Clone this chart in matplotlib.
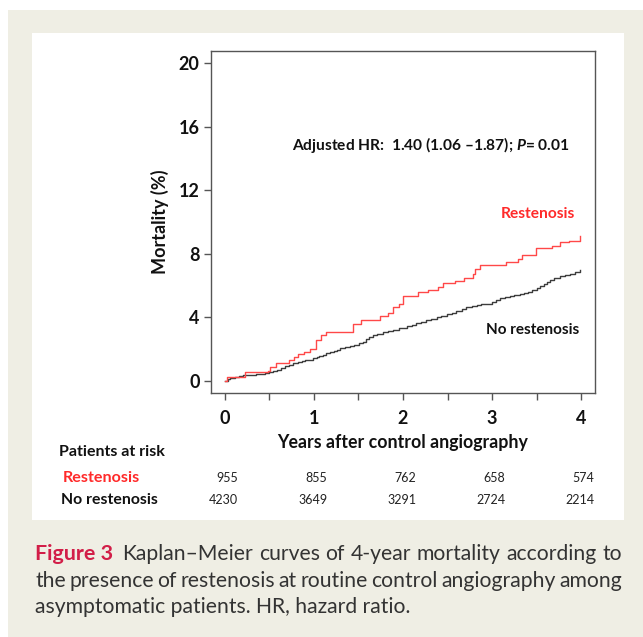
import matplotlib
matplotlib.use('Agg')
import matplotlib.pyplot as plt
from matplotlib.patches import Rectangle
from matplotlib.ticker import MultipleLocator

# データ
rest_t = [0, 0.02, 0.18, 0.23, 0.48, 0.51, 0.57, 0.72, 0.78, 0.82, 0.89, 0.95,
          1.02, 1.08, 1.14, 1.44, 1.53, 1.74, 1.83, 1.89, 1.96, 2.0, 2.17, 2.28,
          2.39, 2.45, 2.58, 2.69, 2.79, 2.81, 2.86, 3.16, 3.29, 3.34, 3.49, 3.67,
          3.76, 3.86, 3.99]
rest_y = [0, 0.25, 0.25, 0.56, 0.6, 0.88, 1.1, 1.3, 1.5, 1.7, 1.8, 2.0,
          2.55, 2.87, 3.08, 3.6, 3.85, 4.1, 4.27, 4.65, 4.85, 5.31, 5.6, 5.73,
          5.9, 6.15, 6.3, 6.48, 6.74, 7.05, 7.26, 7.47, 7.68, 7.89, 8.37, 8.5,
          8.72, 8.83, 9.14]

norest_t = [0, 0.03, 0.06, 0.11, 0.16, 0.2, 0.25, 0.3, 0.35, 0.4, 0.45, 0.5,
            0.54, 0.58, 0.63, 0.68, 0.72, 0.77, 0.82, 0.86, 0.9, 0.95, 0.99,
            1.03, 1.06, 1.1, 1.14, 1.18, 1.22, 1.26, 1.29, 1.35, 1.4, 1.45,
            1.51, 1.55, 1.58, 1.62, 1.66, 1.71, 1.77, 1.83, 1.89, 1.96, 2.04,
            2.1, 2.15, 2.2, 2.26, 2.32, 2.38, 2.43, 2.49, 2.55, 2.6, 2.66,
            2.71, 2.77, 2.83, 2.88, 2.94, 3.0, 3.05, 3.09, 3.15, 3.2, 3.25,
            3.31, 3.36, 3.4, 3.45, 3.5, 3.54, 3.58, 3.62, 3.65, 3.7, 3.76,
            3.82, 3.88, 3.93, 3.99]
norest_y = [0, 0.08, 0.15, 0.24, 0.31, 0.34, 0.36, 0.38, 0.4, 0.44, 0.5, 0.55,
            0.6, 0.68, 0.78, 0.9, 1.0, 1.08, 1.15, 1.21, 1.27, 1.33, 1.4,
            1.47, 1.55, 1.63, 1.72, 1.8, 1.88, 1.96, 2.03, 2.1, 2.18, 2.26,
            2.34, 2.46, 2.6, 2.74, 2.87, 2.96, 3.05, 3.13, 3.22, 3.32, 3.43,
            3.53, 3.62, 3.71, 3.8, 3.89, 3.98, 4.08, 4.18, 4.29, 4.4, 4.52,
            4.64, 4.7, 4.75, 4.8, 4.85, 4.98, 5.1, 5.23, 5.28, 5.33, 5.38,
            5.44, 5.52, 5.6, 5.72, 5.86, 5.98, 6.1, 6.21, 6.32, 6.45, 6.57,
            6.65, 6.74, 6.84, 6.95]

years = [0, 1, 2, 3, 4]
risk_rest = [955, 855, 762, 658, 574]
risk_norest = [4230, 3649, 3291, 2724, 2214]

caption_lines = ['Kaplan\u2013Meier curves of 4-year mortality according to',
                 'the presence of restenosis at routine control angiography among',
                 'asymptomatic patients. HR, hazard ratio.']

RED = '#ff2a2a'
LINE_RED = '#ff4848'
DARK = '#3c3c3c'
BEIGE = '#efeee4'
FONT = ['Lato', 'DejaVu Sans']
W, H = 643, 637


def justify(fig, words, x0, x1, y, **kw):
    # 単語を均等に配置して両端揃え
    r = fig.canvas.get_renderer()
    texts = [fig.text(0, y, w, ha='left', va='center', **kw) for w in words]
    widths = [t.get_window_extent(r).width for t in texts]
    gap = (x1 - x0 - sum(widths)) / (len(words) - 1)
    x = x0
    for t, w in zip(texts, widths):
        t.set_x(x / W)
        x += w + gap


def main():
    plt.rcParams['font.family'] = FONT
    plt.rcParams['mathtext.fontset'] = 'custom'
    plt.rcParams['mathtext.it'] = 'Lato:italic:bold'
    fig = plt.figure(figsize=(6.43, 6.37), dpi=100, facecolor='white')

    # 背景
    fig.patches.append(Rectangle((8 / W, 0), 1, 1 - 10 / H, transform=fig.transFigure,
                                 facecolor=BEIGE, edgecolor='none', zorder=-10))
    fig.patches.append(Rectangle((32 / W, 1 - 520 / H), (624 - 32) / W, (520 - 33) / H,
                                 transform=fig.transFigure, facecolor='white',
                                 edgecolor='none', zorder=-9))

    ax = fig.add_axes([210.7 / W, 1 - 393.3 / H, 384.6 / W, 342.6 / H])
    ax.set_facecolor('white')
    ax.step(norest_t, norest_y, where='post', color=DARK, lw=1.0)
    ax.step(rest_t, rest_y, where='post', color=LINE_RED, lw=1.0)

    ax.set_xlim(-0.16, 4.16)
    ax.set_ylim(-0.8, 20.8)
    ax.set_yticks([0, 4, 8, 12, 16, 20])
    ax.set_xticks(years)
    ax.xaxis.set_minor_locator(MultipleLocator(0.5))
    for s in ax.spines.values():
        s.set_color('#555555')
        s.set_linewidth(1.0)
    ax.tick_params(axis='both', which='both', length=5, width=1.0, color='#555555')
    ax.tick_params(axis='y', labelsize=13, pad=3)
    ax.tick_params(axis='x', labelsize=13, pad=7)
    for lab in ax.get_xticklabels() + ax.get_yticklabels():
        lab.set_fontweight('bold')
        lab.set_color('#111111')

    ax.set_xlabel('Years after control angiography', fontsize=12.8, fontweight='bold',
                  color='#111111', labelpad=5)
    ax.set_ylabel('Mortality (%)', fontsize=13, fontweight='bold', color='#111111',
                  labelpad=7)

    ax.text(2.31, 14.86, 'Adjusted HR:  1.40 (1.06 \u20131.87); $\\mathit{P}$= 0.01',
            ha='center', va='center', fontsize=11.2, fontweight='bold', color='#111111')
    ax.text(3.93, 10.5, 'Restenosis', ha='right', va='center', fontsize=11.2,
            fontweight='bold', color=RED)
    ax.text(3.98, 3.18, 'No restenosis', ha='right', va='center', fontsize=11,
            fontweight='bold', color='#111111')

    # Patients at risk
    fig.text(59 / W, 1 - 452 / H, 'Patients at risk', ha='left', va='center',
             fontsize=11.5, fontweight='bold', color='#111111')
    fig.text(63 / W, 1 - 478 / H, 'Restenosis', ha='left', va='center',
             fontsize=11.6, fontweight='bold', color=RED)
    fig.text(61 / W, 1 - 500 / H, 'No restenosis', ha='left', va='center',
             fontsize=11.4, fontweight='bold', color='#111111')
    tr = matplotlib.transforms.blended_transform_factory(ax.transData, fig.transFigure)
    for x, a, b in zip(years, risk_rest, risk_norest):
        ax.text(x + 0.15, 1 - 478 / H, str(a), transform=tr, ha='right', va='center',
                fontsize=9, color='#222222', clip_on=False)
        ax.text(x + 0.15, 1 - 500 / H, str(b), transform=tr, ha='right', va='center',
                fontsize=9, color='#222222', clip_on=False)

    # キャプション
    cap = dict(fontsize=15.2, color='#333333')
    t1 = fig.text(35 / W, 1 - 554 / H, 'Figure 3', ha='left', va='center',
                  fontsize=15.4, fontweight='bold', color='#d21e48')
    fig.canvas.draw()
    bb = t1.get_window_extent(fig.canvas.get_renderer())
    justify(fig, caption_lines[0].split(), bb.x1 + 9, 622, 1 - 554 / H, **cap)
    justify(fig, caption_lines[1].split(), 35, 622, 1 - 581 / H, **cap)
    fig.text(35 / W, 1 - 607 / H, caption_lines[2], ha='left', va='center', **cap)

    fig.savefig('out.png', dpi=100, facecolor=fig.get_facecolor())


if __name__ == '__main__':
    main()
